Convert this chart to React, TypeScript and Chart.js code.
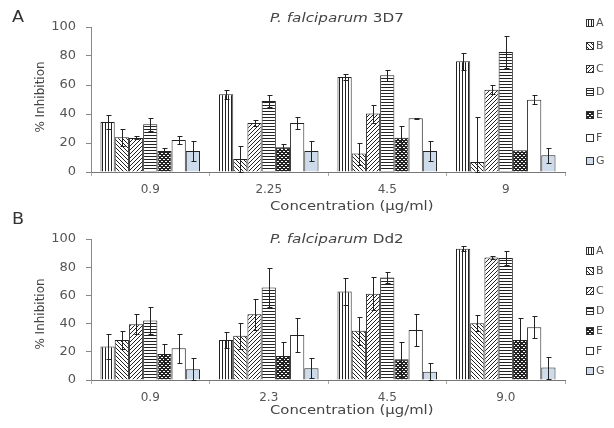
import React, { useEffect, useRef } from 'react';
import { Chart, registerables } from 'chart.js';

Chart.register(...registerables);

const SERIES = ['A', 'B', 'C', 'D', 'E', 'F', 'G'];

const CATEGORIES_3D7 = ['0.9', '2.25', '4.5', '9'];
const CATEGORIES_DD2 = ['0.9', '2.3', '4.5', '9.0'];

// rows = series A..G, columns = concentrations
const VALUES_3D7 = [
  [34.5, 53.6, 65.5, 76.3],
  [24, 9, 12.7, 6.9],
  [23.5, 33.8, 40.3, 56.8],
  [33, 49, 66.7, 82.8],
  [14.5, 17, 23.7, 15],
  [22, 33.8, 37, 49.9],
  [14.5, 14.5, 14.5, 11.5],
];
const ERRORS_3D7 = [
  [4.5, 3.2, 1.9, 5.7],
  [6, 9, 7.6, 31],
  [1, 2, 6.2, 3],
  [4.5, 4, 3.9, 10.8],
  [2.3, 2, 8, 0],
  [3, 4.2, 0.5, 3],
  [7, 7, 7, 5.3],
];

const VALUES_DD2 = [
  [23.7, 28.4, 62.8, 93.1],
  [28.4, 31.3, 35, 40.3],
  [39.6, 46.7, 61.1, 86.9],
  [42.2, 65.6, 72.7, 86.5],
  [18.5, 17, 14.7, 28.4],
  [22.5, 32, 35.5, 37.5],
  [7.6, 8.3, 5.9, 8.8],
];
const ERRORS_DD2 = [
  [8.8, 5.5, 9.5, 1.6],
  [6.6, 9, 10, 5.7],
  [7.1, 11.1, 11.6, 0.8],
  [9.8, 13.8, 3.8, 5.2],
  [7.1, 10.2, 12.5, 15.5],
  [10.2, 11.9, 11.4, 8],
  [7.8, 7, 5.9, 7.8],
];

const Y_TICKS_MAX = 100;
const Y_TICK_STEP = 20;

const FONT = '"DejaVu Sans", sans-serif';

function makePattern(kind: string): CanvasPattern | string {
  const c = document.createElement('canvas');
  const ctx = c.getContext('2d')!;
  const line = '#222';
  if (kind === 'vertical') {
    c.width = 3; c.height = 3;
    ctx.fillStyle = '#fff'; ctx.fillRect(0, 0, 3, 3);
    ctx.fillStyle = line; ctx.fillRect(0, 0, 1, 3);
  } else if (kind === 'back') {
    c.width = 4; c.height = 4;
    ctx.fillStyle = '#fff'; ctx.fillRect(0, 0, 4, 4);
    ctx.fillStyle = line;
    for (let i = 0; i < 4; i++) ctx.fillRect(i, i, 1, 1);
  } else if (kind === 'forward') {
    c.width = 4; c.height = 4;
    ctx.fillStyle = '#fff'; ctx.fillRect(0, 0, 4, 4);
    ctx.fillStyle = line;
    for (let i = 0; i < 4; i++) ctx.fillRect(3 - i, i, 1, 1);
  } else if (kind === 'horizontal') {
    c.width = 3; c.height = 3;
    ctx.fillStyle = '#fff'; ctx.fillRect(0, 0, 3, 3);
    ctx.fillStyle = line; ctx.fillRect(0, 0, 3, 1);
  } else if (kind === 'dots') {
    c.width = 4; c.height = 4;
    ctx.fillStyle = '#222'; ctx.fillRect(0, 0, 4, 4);
    ctx.fillStyle = '#fff';
    ctx.fillRect(1, 1, 1, 1);
    ctx.fillRect(3, 3, 1, 1);
    ctx.fillRect(2, 1, 1, 1);
    ctx.fillRect(0, 3, 1, 1);
  } else if (kind === 'white') {
    return '#ffffff';
  } else {
    return '#cddbea';
  }
  return ctx.createPattern(c, 'repeat')!;
}

const PATTERN_KINDS = ['vertical', 'back', 'forward', 'horizontal', 'dots', 'white', 'blue'];

interface PanelSpec {
  letter: string;
  letterY: number;
  strain: string;
  titleY: number;
  xTitleY: number;
  yTitleY: number;
  legendY0: number;
  legendStep: number;
  top: number;
  xh: number;
  categories: string[];
  values: number[][];
  errors: number[][];
}

function stretchedText(ctx: CanvasRenderingContext2D, text: string, x: number, y: number, sx: number): number {
  ctx.save();
  ctx.translate(x, y);
  ctx.scale(sx, 1);
  ctx.fillText(text, 0, 0);
  const w = ctx.measureText(text).width * sx;
  ctx.restore();
  return w;
}

function buildConfig(p: PanelSpec): any {
  const patterns = PATTERN_KINDS.map(makePattern);

  const errorPlugin = {
    id: 'errbars',
    afterDatasetsDraw(chart: any) {
      const ctx = chart.ctx;
      const ys = chart.scales.y;
      ctx.save();
      ctx.strokeStyle = '#222';
      ctx.lineWidth = 1;
      chart.data.datasets.forEach((ds: any, i: number) => {
        const meta = chart.getDatasetMeta(i);
        meta.data.forEach((el: any, j: number) => {
          const v = ds.data[j];
          const e = p.errors[i][j];
          if (!e) return;
          const x = Math.round(el.x) + 0.5;
          const yt = Math.round(ys.getPixelForValue(v + e)) + 0.5;
          const yb = Math.round(ys.getPixelForValue(Math.max(0, v - e))) + 0.5;
          ctx.beginPath();
          ctx.moveTo(x, yt); ctx.lineTo(x, yb);
          ctx.moveTo(x - 2, yt); ctx.lineTo(x + 3, yt);
          ctx.moveTo(x - 2, yb); ctx.lineTo(x + 3, yb);
          ctx.stroke();
        });
      });
      ctx.restore();
    },
  };

  const textPlugin = {
    id: 'texts',
    afterDraw(chart: any) {
      const ctx = chart.ctx;
      ctx.save();
      ctx.textBaseline = 'middle';
      ctx.textAlign = 'left';
      // panel letter
      ctx.fillStyle = '#333';
      ctx.font = `16px ${FONT}`;
      stretchedText(ctx, p.letter, 12, p.letterY, 1.1);
      // title
      ctx.fillStyle = '#444';
      ctx.font = `italic 13px ${FONT}`;
      const w = stretchedText(ctx, 'P. falciparum', 270, p.titleY, 1.17);
      ctx.font = `13px ${FONT}`;
      stretchedText(ctx, ' ' + p.strain, 270 + w, p.titleY, 1.17);
      // x title
      stretchedText(ctx, 'Concentration (µg/ml)', 270, p.xTitleY, 1.14);
      // y title
      ctx.save();
      ctx.translate(41, p.yTitleY);
      ctx.rotate(-Math.PI / 2);
      ctx.textAlign = 'center';
      ctx.font = `12px ${FONT}`;
      ctx.fillText('% Inhibition', 0, 0);
      ctx.restore();
      // legend
      ctx.font = `11px ${FONT}`;
      chart.data.datasets.forEach((ds: any, i: number) => {
        const y = p.legendY0 + i * p.legendStep;
        ctx.fillStyle = ds.backgroundColor;
        ctx.fillRect(586, y - 4, 8, 8);
        ctx.strokeStyle = '#333';
        ctx.lineWidth = 1;
        ctx.strokeRect(586.5, y - 3.5, 7, 7);
        ctx.fillStyle = '#555';
        ctx.fillText(ds.label, 596, y);
      });
      ctx.restore();
    },
  };

  return {
    type: 'bar',
    data: {
      labels: p.categories,
      datasets: SERIES.map((s, i) => ({
        label: s,
        data: p.values[i],
        backgroundColor: patterns[i],
        borderColor: '#222',
        borderWidth: 1,
        categoryPercentage: 0.84,
        barPercentage: 1,
      })),
    },
    options: {
      responsive: false,
      animation: false,
      devicePixelRatio: 1,
      layout: { padding: { top: p.top, right: 49, left: 0, bottom: 0 } },
      plugins: { legend: { display: false }, tooltip: { enabled: false }, title: { display: false } },
      scales: {
        x: {
          afterFit: (s: any) => { s.height = p.xh; },
          grid: { display: true, drawOnChartArea: false, drawTicks: true, tickLength: 4, color: '#aaa' },
          border: { display: true, color: '#777', width: 1 },
          ticks: { color: '#555', font: { family: FONT, size: 12 }, padding: 7 },
        },
        y: {
          min: 0,
          max: Y_TICKS_MAX,
          afterFit: (s: any) => { s.width = 91; },
          grid: { display: true, drawOnChartArea: false, drawTicks: true, tickLength: 5, color: '#888' },
          border: { display: true, color: '#888', width: 1 },
          ticks: { stepSize: Y_TICK_STEP, color: '#555', font: { family: FONT, size: 13 }, padding: 10 },
        },
      },
    },
    plugins: [errorPlugin, textPlugin],
  };
}

export default function App() {
  const refA = useRef<HTMLCanvasElement>(null);
  const refB = useRef<HTMLCanvasElement>(null);

  useEffect(() => {
    const a = new Chart(refA.current!, buildConfig({
      letter: 'A', letterY: 18, strain: '3D7', titleY: 19, xTitleY: 207, yTitleY: 97,
      legendY0: 23, legendStep: 23, top: 27, xh: 42,
      categories: CATEGORIES_3D7, values: VALUES_3D7, errors: ERRORS_3D7,
    }));
    const b = new Chart(refB.current!, buildConfig({
      letter: 'B', letterY: 20, strain: 'Dd2', titleY: 40, xTitleY: 211, yTitleY: 114,
      legendY0: 51, legendStep: 20, top: 39, xh: 48,
      categories: CATEGORIES_DD2, values: VALUES_DD2, errors: ERRORS_DD2,
    }));
    return () => { a.destroy(); b.destroy(); };
  }, []);

  return (
    <div style={{ position: 'fixed', left: 0, top: 0, width: 614, height: 428, background: '#fff' }}>
      <canvas ref={refA} width={614} height={214} style={{ position: 'absolute', left: 0, top: 0 }} />
      <canvas ref={refB} width={614} height={228} style={{ position: 'absolute', left: 0, top: 200 }} />
    </div>
  );
}
